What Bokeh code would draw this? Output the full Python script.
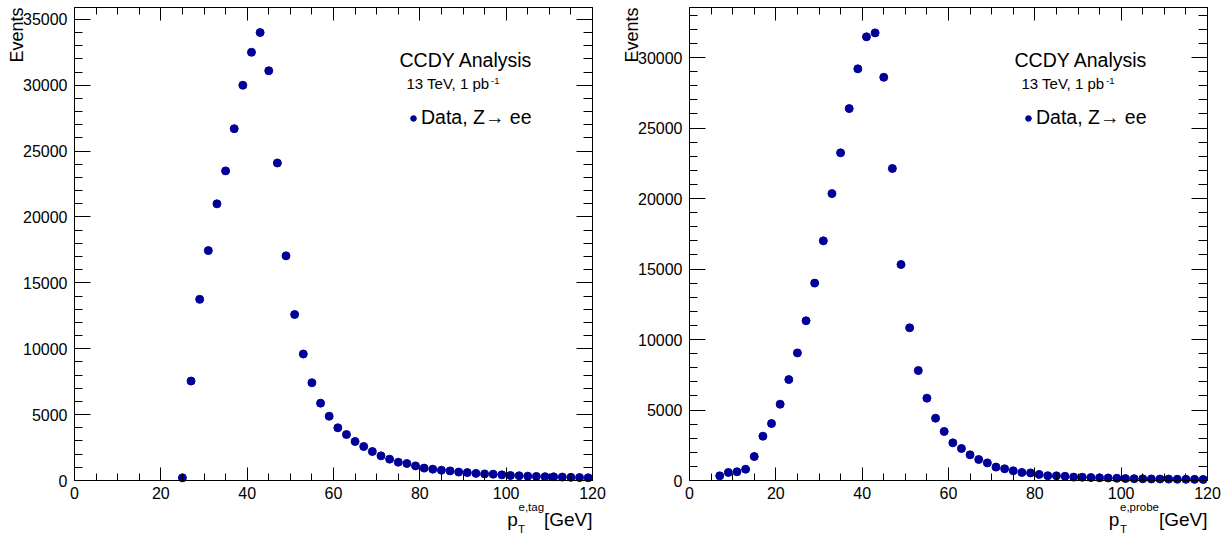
import math
from bokeh.plotting import figure
from bokeh.models import (Range1d, SingleIntervalTicker, LinearAxis, Label, Legend,
                          LegendItem, CustomJSTickFormatter)
from bokeh.layouts import row
from bokeh.embed import file_html
from bokeh.resources import INLINE

# ---------------- data ----------------
tag_pt = [25, 27, 29, 31, 33, 35, 37, 39, 41, 43, 45, 47, 49, 51, 53, 55, 57, 59, 61, 63,
          65, 67, 69, 71, 73, 75, 77, 79, 81, 83, 85, 87, 89, 91, 93, 95, 97, 99, 101, 103,
          105, 107, 109, 111, 113, 115, 117, 119]
tag_events = [200, 7550, 13750, 17450, 21000, 23500, 26700, 30000, 32500, 34000, 31100,
              24100, 17050, 12600, 9600, 7420, 5870, 4880, 4000, 3490, 2960, 2580, 2200,
              1870, 1620, 1390, 1290, 1110, 940, 860, 780, 730, 640, 600, 540, 500, 480,
              430, 380, 360, 330, 310, 290, 280, 260, 240, 220, 210]

probe_pt = [7, 9, 11, 13, 15, 17, 19, 21, 23, 25, 27, 29, 31, 33, 35, 37, 39, 41, 43, 45,
            47, 49, 51, 53, 55, 57, 59, 61, 63, 65, 67, 69, 71, 73, 75, 77, 79, 81, 83, 85,
            87, 89, 91, 93, 95, 97, 99, 101, 103, 105, 107, 109, 111, 113, 115, 117, 119]
probe_events = [330, 570, 620, 800, 1700, 3140, 4040, 5410, 7160, 9050, 11330, 14000,
                17000, 20350, 23240, 26380, 29200, 31470, 31750, 28600, 22130, 15320,
                10830, 7800, 5840, 4420, 3480, 2670, 2270, 1820, 1490, 1250, 950, 830, 690,
                570, 540, 430, 340, 330, 300, 240, 230, 210, 190, 180, 160, 140, 130, 120,
                110, 105, 100, 90, 85, 80, 75]

x_min, x_max = 0, 120
y_max_tag = 35900
y_max_probe = 33550

y_title = "Events"
analysis_title = "CCDY Analysis"
energy_text = "13 TeV, 1 pb"
lumi_sup = "-1"
legend_label = "Data, Z\u2192 ee"

FONT = "Liberation Sans"
BLUE = "#000099"

# canvas / ROOT-frame geometry (pixels)
W, H = 615, 536
FL, FR, FT, FB = 74, 23, 7, 56   # margins of the ROOT frame inside the canvas


def inward_axis(axis, major_in, minor_in):
    axis.major_tick_in = major_in
    axis.major_tick_out = 0
    axis.minor_tick_in = minor_in
    axis.minor_tick_out = 0
    axis.axis_line_color = "black"
    axis.major_tick_line_color = "black"
    axis.minor_tick_line_color = "black"


def lab(p, x, y, dx, dy, text, size, align="left", angle=0.0):
    p.add_layout(Label(x=x, y=y, x_offset=dx, y_offset=dy, text=text, angle=angle,
                       text_align=align, text_baseline="alphabetic",
                       text_font=FONT, text_font_size=size, text_color="black"))


def make_plot(xs, ys, ymax, sup_text, p_off, sup_off, sub_off):
    kx = (W - FL - FR) / (x_max - x_min)
    ky = (H - FT - FB) / ymax
    xr = Range1d(x_min - FL / kx, x_max + FR / kx)
    yr = Range1d(-FB / ky, ymax + FT / ky)
    p = figure(width=W, height=H, output_backend="svg", toolbar_location=None,
               x_range=xr, y_range=yr, min_border=0)
    p.xgrid.visible = False
    p.ygrid.visible = False
    p.outline_line_color = None

    xt = SingleIntervalTicker(interval=20, num_minor_ticks=4)
    yt = SingleIntervalTicker(interval=5000, num_minor_ticks=5)

    xa = p.xaxis[0]
    ya = p.yaxis[0]
    xa.ticker = xt
    ya.ticker = yt
    xa.fixed_location = 0
    ya.fixed_location = x_min
    xa.bounds = (x_min, x_max)
    ya.bounds = (0, ymax)
    inward_axis(xa, 13, 7)
    inward_axis(ya, 16, 8)
    for ax in (xa, ya):
        ax.major_label_text_font = FONT
        ax.major_label_text_font_size = "16px"
        ax.major_label_text_color = "black"
    xa.major_label_standoff = 6
    ya.major_label_standoff = 7

    top = LinearAxis(ticker=xt, formatter=CustomJSTickFormatter(code="return ''"),
                     major_label_text_font_size="0px", major_label_standoff=0,
                     fixed_location=ymax, bounds=(x_min, x_max))
    inward_axis(top, 13, 7)
    right = LinearAxis(ticker=yt, formatter=CustomJSTickFormatter(code="return ''"),
                       major_label_text_font_size="0px", major_label_standoff=0,
                       fixed_location=x_max, bounds=(0, ymax))
    inward_axis(right, 16, 9)
    p.add_layout(top, "above")
    p.add_layout(right, "right")

    r = p.scatter(xs, ys, size=8, color=BLUE, marker="circle")

    # y axis title (top-aligned, like ROOT)
    lab(p, x_min, ymax, -57.5, 0, y_title, "18px", align="right", angle=math.pi / 2)

    # x axis title pieces, anchored at the frame's bottom-right corner
    lab(p, x_max, 0, 0, -38.7, "[GeV]", "19px", align="right")
    lab(p, x_max, 0, p_off, -38.7, "p", "19px")
    lab(p, x_max, 0, sup_off, -26.2, sup_text, "11.5px")
    lab(p, x_max, 0, sub_off, -48.2, "T", "11.5px")

    # header texts, anchored at the frame's top-left corner
    lab(p, x_min, ymax, 325, -52.6, analysis_title, "19.5px")
    lab(p, x_min, ymax, 332, -75.5, energy_text, "15px")
    lab(p, x_min, ymax, 416.5, -73.5, lumi_sup, "9.5px")

    legend = Legend(items=[LegendItem(label=legend_label, renderers=[r])],
                    location=(406, 407), padding=0, margin=0, spacing=0,
                    border_line_color=None, background_fill_alpha=0,
                    glyph_width=14, glyph_height=14, label_standoff=1,
                    label_text_font=FONT, label_text_font_size="19.5px",
                    label_text_color="black", label_height=14)
    p.add_layout(legend)
    return p


p1 = make_plot(tag_pt, tag_events, y_max_tag, "e,tag", -85.3, -74, -74.5)
p2 = make_plot(probe_pt, probe_events, y_max_probe, "e,probe", -98.7, -87.5, -87.5)

layout = row(p1, p2, spacing=0)
open("out.html", "w").write(file_html(layout, INLINE))
